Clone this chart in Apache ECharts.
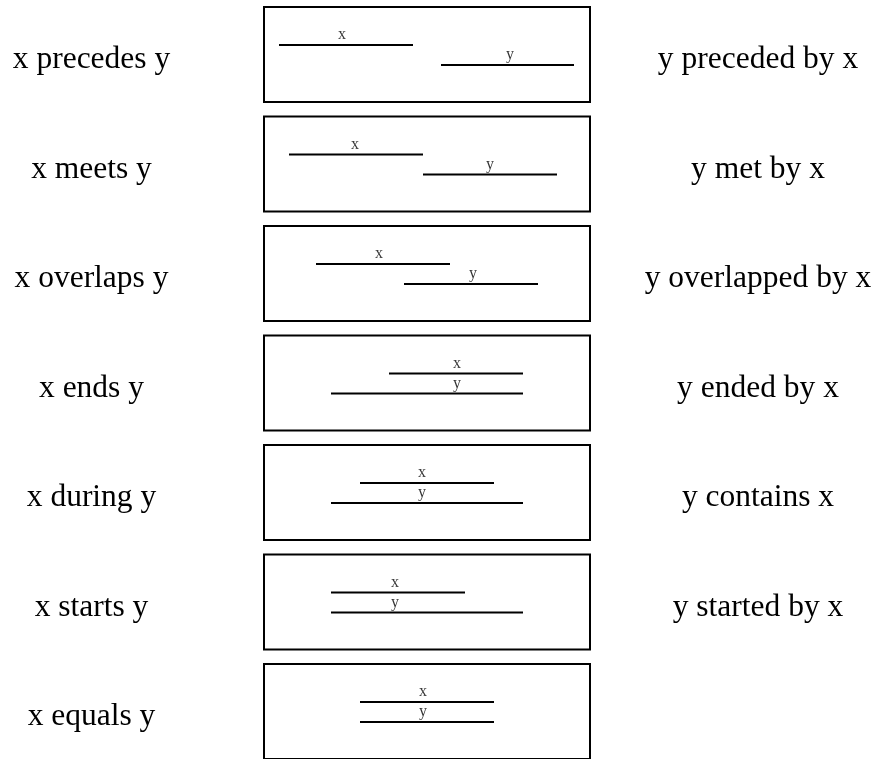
<!DOCTYPE html>
<html>
<head>
<meta charset="utf-8">
<script src="https://cdn.jsdelivr.net/npm/echarts@6/dist/echarts.min.js"></script>
<style>
html,body{margin:0;padding:0;background:#fff;}
#chart{width:879px;height:759px;}
</style>
</head>
<body>
<div id="chart"></div>
<script>
// Allen's interval relations
const relationsLeft  = ['x precedes y','x meets y','x overlaps y','x ends y','x during y','x starts y','x equals y'];
const relationsRight = ['y preceded by x','y met by x','y overlapped by x','y ended by x','y contains x','y started by x',''];
// interval endpoints (time units, each box spans 0..326)
const xStart = [15, 25, 52, 125, 96, 67, 96];
const xEnd   = [149, 159, 186, 259, 230, 201, 230];
const yStart = [177, 159, 140, 67, 67, 67, 96];
const yEnd   = [310, 293, 274, 259, 259, 259, 230];
// label positions (time units)
const xLabelAt = [78, 91, 115, 193, 158, 131, 159];
const yLabelAt = [246, 226, 209, 193, 158, 131, 159];
const xLane = 1, yLane = 0;

const chart = echarts.init(document.getElementById('chart'), null, {renderer:'canvas'});
const grids = [], xAxes = [], yAxes = [], series = [], graphics = [];
const rowTops = [7, 116.5, 226, 335.5, 445, 554.5, 664];
const serif = 'Liberation Serif';
for (let i = 0; i < relationsLeft.length; i++) {
  grids.push({left:264, width:326, top:rowTops[i], height:95, show:true,
    borderColor:'#000', borderWidth:2, backgroundColor:'transparent'});
  xAxes.push({gridIndex:i, type:'value', min:0, max:326, show:false});
  yAxes.push({gridIndex:i, type:'value', min:-1.85, max:2.9, show:false});
  const ls = {color:'#000', width:2};
  series.push({type:'line', xAxisIndex:i, yAxisIndex:i, symbol:'none', silent:true,
    lineStyle:ls, data:[[xStart[i], xLane],[xEnd[i], xLane]]});
  series.push({type:'line', xAxisIndex:i, yAxisIndex:i, symbol:'none', silent:true,
    lineStyle:ls, data:[[yStart[i], yLane],[yEnd[i], yLane]]});
  series.push({type:'scatter', xAxisIndex:i, yAxisIndex:i, symbolSize:0, silent:true,
    data:[[xLabelAt[i], xLane, 'x'],[yLabelAt[i], yLane, 'y']],
    label:{show:true, position:'top', distance:2, formatter:p=>p.data[2],
      fontFamily:serif, fontSize:16, color:'#000'}});
  const cy = 60 + i*109.5;
  graphics.push({type:'text', x:91.5, y:cy, style:{text:relationsLeft[i], fill:'#000',
    font:'31.5px "Liberation Serif"', textAlign:'center', textVerticalAlign:'middle'}});
  if (relationsRight[i]) graphics.push({type:'text', x:758, y:cy, style:{text:relationsRight[i], fill:'#000',
    font:'31.5px "Liberation Serif"', textAlign:'center', textVerticalAlign:'middle'}});
}
chart.setOption({
  animation:false,
  backgroundColor:'#fff',
  grid:grids, xAxis:xAxes, yAxis:yAxes, series:series, graphic:graphics
});
</script>
</body>
</html>
